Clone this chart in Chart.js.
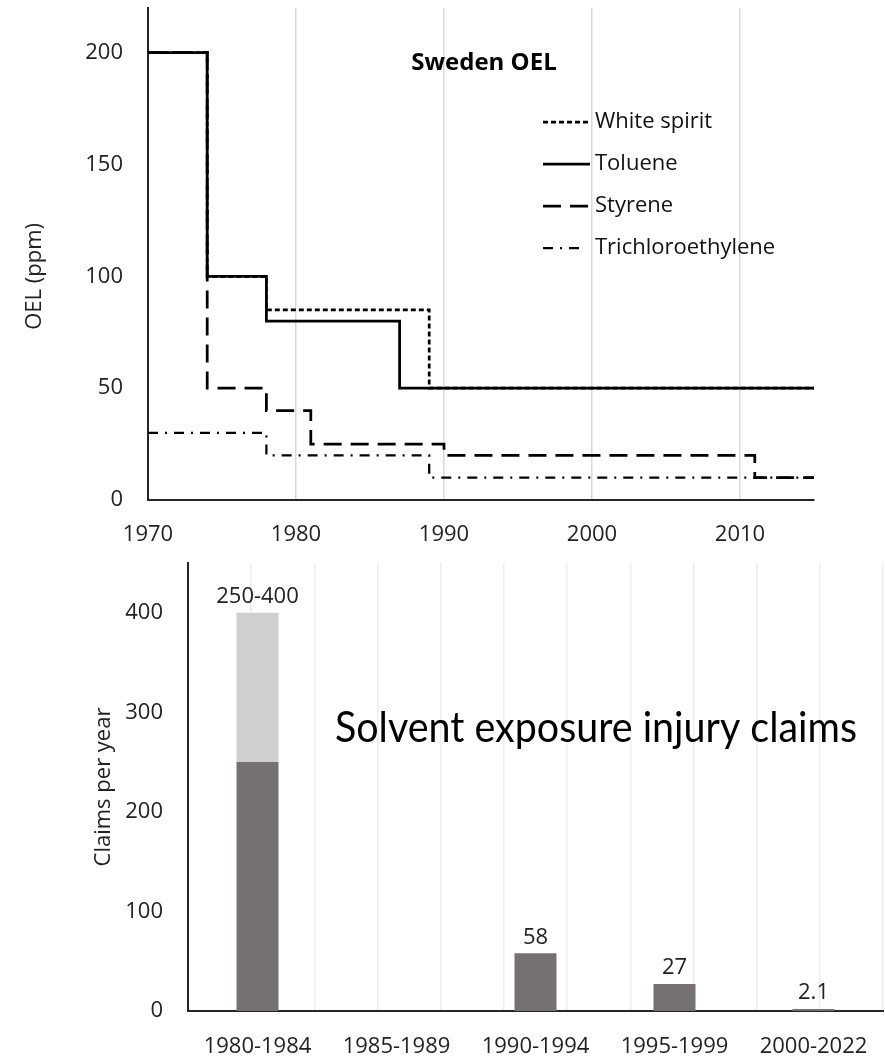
<!DOCTYPE html>
<html><head><meta charset="utf-8">
<script src="https://cdn.jsdelivr.net/npm/chart.js@4.4.1/dist/chart.umd.min.js"></script>
<style>
html,body{margin:0;padding:0;background:#fff;}
#wrap{position:relative;width:885px;height:1056px;overflow:hidden;background:#fff;}
.box{position:absolute;left:0;width:885px;}
canvas{display:block;}
</style></head><body>
<div id="wrap">
  <div class="box" style="top:0;height:560px"><canvas id="top" width="885" height="560"></canvas></div>
  <div class="box" style="top:560px;height:496px"><canvas id="bot" width="885" height="496"></canvas></div>
</div>
<script>
// ---------- data ----------
const oelTitle = "Sweden OEL";
const oelAxisTitle = "OEL (ppm)";
const yearTicks = [1970, 1980, 1990, 2000, 2010];
const oelTicks = [0, 50, 100, 150, 200];

const whiteSpiritYears = [1970, 1974, 1978, 1989, 2015];
const whiteSpiritPpm   = [200, 100, 85, 50, 50];
const tolueneYears     = [1970, 1974, 1978, 1987, 2015];
const toluenePpm       = [200, 100, 80, 50, 50];
const styreneYears     = [1970, 1974, 1978, 1981, 1990, 2011, 2015];
const styrenePpm       = [200, 50, 40, 25, 20, 10, 10];
const trichloroYears   = [1970, 1978, 1989, 2015];
const trichloroPpm     = [30, 20, 10, 10];

const claimsTitle = "Solvent exposure injury claims";
const claimsAxisTitle = "Claims per year";
const periods = ["1980-1984", "1985-1989", "1990-1994", "1995-1999", "2000-2022"];
const claimsBase  = [250, null, 58, 27, 2.1];
const claimsRange = [150, null, null, null, null];
const claimLabels = ["250-400", "", "58", "27", "2.1"];
const claimTicks = [0, 100, 200, 300, 400];

// ---------- helpers ----------
const FONT = '"Open Sans", "Noto Sans", sans-serif';
const TXT = '#222';
const zip = (xs, ys) => xs.map((x, i) => ({x: x, y: ys[i]}));
const noPad = s => { s.paddingTop = 0; s.paddingBottom = 0; s.paddingLeft = 0; s.paddingRight = 0; };

function rotatedTitle(ctx, text, x, y, size) {
  ctx.save();
  ctx.translate(x, y);
  ctx.rotate(-Math.PI / 2);
  ctx.font = size + 'px ' + FONT;
  ctx.fillStyle = TXT;
  ctx.textAlign = 'center';
  ctx.textBaseline = 'middle';
  ctx.fillText(text, 0, 0);
  ctx.restore();
}

const oelDecor = {
  id: 'oelDecor',
  afterDraw(chart) {
    const ctx = chart.ctx;
    const ys = chart.scales.y;
    ctx.save();
    ctx.fillStyle = '#000';
    ctx.font = 'bold 24px ' + FONT;
    ctx.textAlign = 'center';
    ctx.textBaseline = 'alphabetic';
    ctx.fillText(oelTitle, 484, 70);
    chart.data.datasets.forEach((ds, i) => {
      const y = 122 + i * 42;
      ctx.beginPath();
      ctx.setLineDash(ds.borderDash || []);
      ctx.lineWidth = ds.borderWidth;
      ctx.strokeStyle = '#000';
      ctx.lineCap = 'butt';
      ctx.moveTo(543, y);
      ctx.lineTo(i === 3 ? 582 : 590, y);
      ctx.stroke();
      ctx.setLineDash([]);
      ctx.font = '22px ' + FONT;
      ctx.textAlign = 'left';
      ctx.textBaseline = 'middle';
      ctx.fillStyle = '#111';
      ctx.fillText(ds.label, 595, y);
    });
    ctx.restore();
    const cy = (ys.getPixelForValue(0) + ys.getPixelForValue(200)) / 2;
    rotatedTitle(ctx, oelAxisTitle, 35, cy, 22);
  }
};

const claimsDecor = {
  id: 'claimsDecor',
  afterDatasetsDraw(chart) {
    const ctx = chart.ctx;
    ctx.save();
    ctx.font = '22px ' + FONT;
    ctx.fillStyle = TXT;
    ctx.textAlign = 'center';
    ctx.textBaseline = 'middle';
    claimLabels.forEach((lab, i) => {
      if (!lab) return;
      let el = null;
      chart.data.datasets.forEach((ds, d) => {
        if (ds.data[i] !== null && ds.data[i] !== undefined) el = chart.getDatasetMeta(d).data[i];
      });
      if (el) ctx.fillText(lab, el.x, el.y - 16);
    });
    ctx.font = '42px Lato, ' + FONT;
    ctx.fillStyle = '#000';
    ctx.textAlign = 'left';
    ctx.textBaseline = 'alphabetic';
    const w = ctx.measureText(claimsTitle).width;
    const target = 522;
    ctx.translate(335, 182);
    ctx.scale(target / w, 1);
    ctx.fillText(claimsTitle, 0, 0);
    ctx.restore();
    const ca = chart.chartArea;
    rotatedTitle(ctx, claimsAxisTitle, 104, (ca.top + ca.bottom) / 2, 22);
  }
};

function lineDs(label, xs, ys, dash, width) {
  return {label: label, data: zip(xs, ys), borderDash: dash, borderWidth: width,
          borderColor: '#000', backgroundColor: '#000', stepped: 'before', pointRadius: 0,
          fill: false, tension: 0, borderCapStyle: 'butt'};
}

function build() {
  new Chart(document.getElementById('top'), {
    type: 'line',
    data: {
      datasets: [
        lineDs('White spirit', whiteSpiritYears, whiteSpiritPpm, [5, 3], 2.75),
        lineDs('Toluene', tolueneYears, toluenePpm, [], 2.75),
        lineDs('Styrene', styreneYears, styrenePpm, [18, 9], 2.75),
        lineDs('Trichloroethylene', trichloroYears, trichloroPpm, [10, 7, 2, 7], 2.25)
      ]
    },
    options: {
      responsive: false,
      animation: false,
      devicePixelRatio: 1,
      layout: {padding: {top: 8, right: 71, left: 0, bottom: 0}},
      plugins: {legend: {display: false}, tooltip: {enabled: false}},
      scales: {
        x: {
          type: 'linear', min: 1970, max: 2015,
          afterBuildTicks: s => { s.ticks = yearTicks.map(v => ({value: v})); },
          afterFit: s => { s.height = 60; noPad(s); },
          grid: {color: '#d9d9d9', lineWidth: 1.5, drawTicks: false},
          border: {color: '#262626', width: 2},
          ticks: {font: {family: FONT, size: 22}, color: TXT, padding: 22, maxRotation: 0, callback: v => String(v)}
        },
        y: {
          min: 0, max: 220,
          afterBuildTicks: s => { s.ticks = oelTicks.map(v => ({value: v})); },
          afterFit: s => { s.width = 148; noPad(s); },
          grid: {display: false, drawTicks: false},
          border: {color: '#262626', width: 2},
          ticks: {font: {family: FONT, size: 22}, color: TXT, padding: 25, callback: v => String(v)}
        }
      }
    },
    plugins: [oelDecor]
  });

  new Chart(document.getElementById('bot'), {
    type: 'bar',
    data: {
      labels: periods,
      datasets: [
        {label: 'Claims', data: claimsBase, backgroundColor: '#767171', borderWidth: 0},
        {label: 'Range', data: claimsRange, backgroundColor: '#d0cece', borderWidth: 0}
      ]
    },
    options: {
      responsive: false,
      animation: false,
      devicePixelRatio: 1,
      layout: {padding: {top: 3, right: 2, left: 0, bottom: 0}},
      datasets: {bar: {categoryPercentage: 1, barPercentage: 0.302}},
      plugins: {legend: {display: false}, tooltip: {enabled: false}},
      scales: {
        x: {
          stacked: true,
          grid: {display: false, drawTicks: false},
          border: {color: '#262626', width: 2},
          afterFit: s => { s.height = 45; noPad(s); },
          ticks: {font: {family: FONT, size: 22}, color: TXT, padding: 23, maxRotation: 0, autoSkip: false}
        },
        xg: {
          type: 'linear', position: 'top', min: 0, max: 10,
          ticks: {display: false, stepSize: 1},
          grid: {color: '#ededed', lineWidth: 1.5, drawTicks: false},
          border: {display: false},
          afterFit: s => { s.height = 0; noPad(s); }
        },
        y: {
          stacked: true, min: 0, max: 450,
          afterBuildTicks: s => { s.ticks = claimTicks.map(v => ({value: v})); },
          afterFit: s => { s.width = 188; noPad(s); },
          grid: {display: false, drawTicks: false},
          border: {color: '#262626', width: 2},
          ticks: {font: {family: FONT, size: 22}, color: TXT, padding: 25, callback: v => String(v)}
        }
      }
    },
    plugins: [claimsDecor]
  });
}

const loads = ['22px "Open Sans"', 'bold 24px "Open Sans"', '42px Lato'].map(f => document.fonts.load(f).catch(() => null));
Promise.all(loads).then(build, build);
</script>
</body></html>
